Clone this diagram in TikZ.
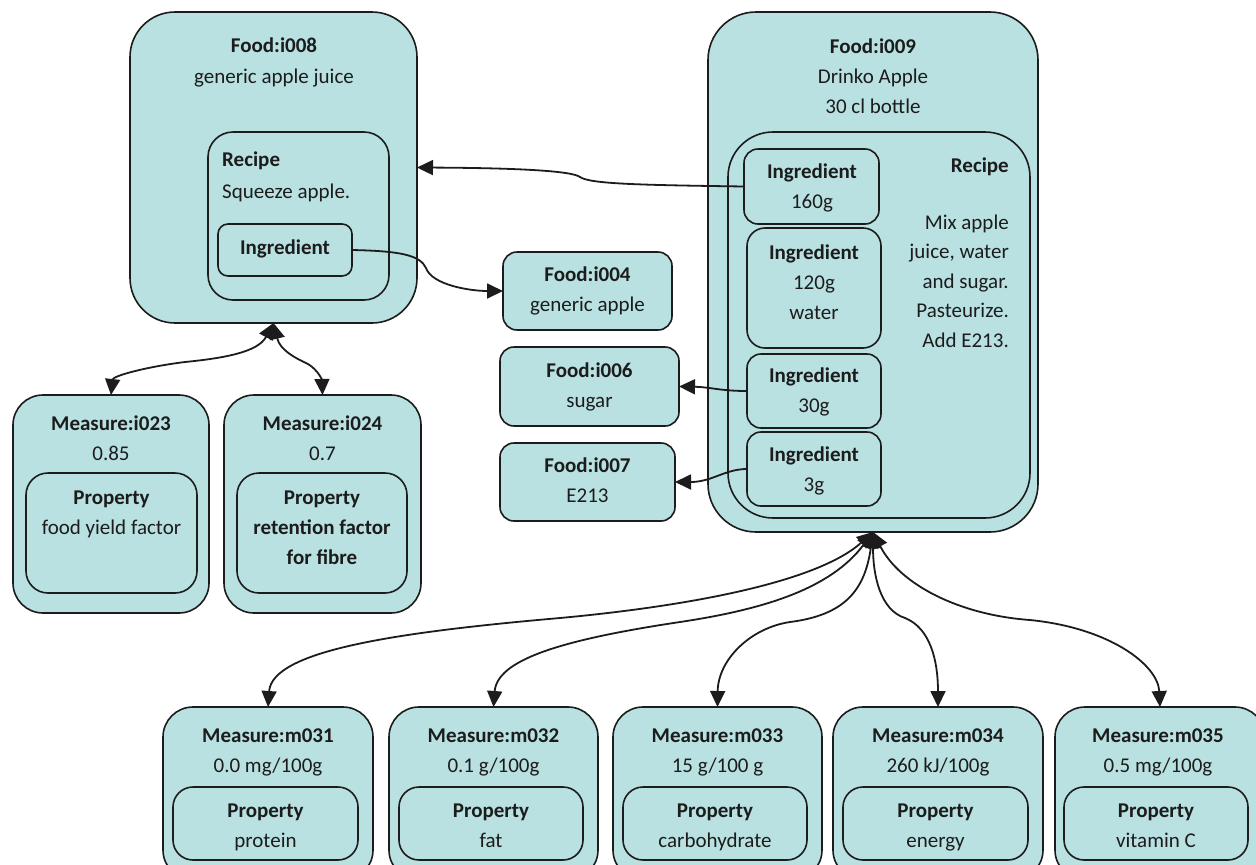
\documentclass[tikz,border=0pt]{standalone}
\usepackage{fontspec}
\setmainfont{Carlito}
\usetikzlibrary{arrows.meta}

\definecolor{cellfill}{RGB}{185,225,225}
\definecolor{ink}{RGB}{28,28,28}

\tikzset{
  cell/.style={draw=ink, fill=cellfill, line width=1.6pt, inner sep=0pt, outer sep=0pt},
  lbl/.style={font=\fontsize{21}{25}\selectfont, text=ink, inner sep=0pt, anchor=base},
  hd/.style={lbl, font=\fontsize{21}{25}\selectfont\bfseries},
  tip/.tip={Triangle[length=16pt,width=15pt]},
  link/.style={draw=ink, line width=1.8pt, -tip},
  twoway/.style={draw=ink, line width=1.8pt, tip-tip},
}

% rounded box given by its corners (x1,y1)-(x2,y2) and a corner radius
\newcommand\cellbox[6]{%
  \node[cell, rounded corners=#6pt,
        minimum width={(#4-#2)*1pt}, minimum height={(#5-#3)*1pt}]
        (#1) at ({(#2+#4)/2},{(#3+#5)/2}) {};}
% one line of text placed by its baseline
\newcommand\txtline[5][lbl]{\node[#1] (#2) at (#3,#4) {#5};}

\begin{document}
\begin{tikzpicture}[x=1pt,y=-1pt]
\useasboundingbox (0,0) rectangle (1256,865);

% ---------- Food:i008 ----------
\cellbox{i008}{130}{12}{417}{323}{45}
\txtline[hd]{i008a}{274}{52}{Food:i008}
\txtline{i008b}{274}{83}{generic apple juice}
\cellbox{recA}{208}{132}{389}{300}{25}
\txtline[hd,anchor=base west]{recAa}{222}{166}{Recipe}
\txtline[lbl,anchor=base west]{recAb}{222}{198}{Squeeze apple.}
\cellbox{ingA}{218}{224}{352}{276}{10}
\txtline[hd]{ingAa}{285}{254}{Ingredient}

% ---------- Food:i009 ----------
\cellbox{i009}{708}{12}{1038}{532}{48}
\txtline[hd]{i009a}{873}{53.5}{Food:i009}
\txtline{i009b}{873}{83}{Drinko Apple}
\txtline{i009c}{873}{113}{30 cl bottle}
\cellbox{recB}{728}{132}{1030}{518}{45}
\txtline[hd,anchor=base east]{recBa}{1009}{172}{Recipe}
\txtline[lbl,anchor=base east]{recBb}{1009}{229}{Mix apple}
\txtline[lbl,anchor=base east]{recBc}{1009}{258.5}{juice, water}
\txtline[lbl,anchor=base east]{recBd}{1009}{288}{and sugar.}
\txtline[lbl,anchor=base east]{recBe}{1009}{317.5}{Pasteurize.}
\txtline[lbl,anchor=base east]{recBf}{1009}{347}{Add E213.}

\cellbox{ing160}{744}{149}{879}{224}{14}
\txtline[hd]{ing160a}{812}{178}{Ingredient}
\txtline{ing160b}{812}{208}{160g}
\cellbox{ing120}{747}{228}{881}{348}{18}
\txtline[hd]{ing120a}{814}{259}{Ingredient}
\txtline{ing120b}{814}{289}{120g}
\txtline{ing120c}{814}{319}{water}
\cellbox{ing30}{747}{354}{881}{428}{14}
\txtline[hd]{ing30a}{814}{382}{Ingredient}
\txtline{ing30b}{814}{412}{30g}
\cellbox{ing3}{747}{432}{881}{506}{14}
\txtline[hd]{ing3a}{814}{461}{Ingredient}
\txtline{ing3b}{814}{491}{3g}

% ---------- plain foods ----------
\cellbox{i004}{503}{252}{672}{330}{14}
\txtline[hd]{i004a}{587.5}{281}{Food:i004}
\txtline{i004b}{587.5}{311}{generic apple}
\cellbox{i006}{500}{347}{679}{426}{14}
\txtline[hd]{i006a}{589.5}{377}{Food:i006}
\txtline{i006b}{589.5}{407}{sugar}
\cellbox{i007}{500}{443}{675}{521}{14}
\txtline[hd]{i007a}{587.5}{472}{Food:i007}
\txtline{i007b}{587.5}{502}{E213}

% ---------- measures of i008 ----------
\cellbox{i023}{13}{395}{209}{613}{30}
\txtline[hd]{i023a}{111}{430}{Measure:i023}
\txtline{i023b}{111}{460}{0.85}
\cellbox{p023}{26}{473}{197}{593}{22}
\txtline[hd]{p023a}{111.5}{504}{Property}
\txtline{p023b}{111.5}{534}{food yield factor}

\cellbox{i024}{224}{395}{421}{613}{30}
\txtline[hd]{i024a}{322.5}{430}{Measure:i024}
\txtline{i024b}{322.5}{460}{0.7}
\cellbox{p024}{237}{473}{407}{593}{22}
\txtline[hd]{p024a}{322}{504}{Property}
\txtline[hd]{p024b}{322}{534}{retention factor}
\txtline[hd]{p024c}{322}{564}{for fibre}

% ---------- measures of i009 ----------
\cellbox{m031}{163}{707}{373}{880}{30}
\txtline[hd]{m031a}{268}{742}{Measure:m031}
\txtline{m031b}{268}{772}{0.0 mg/100g}
\cellbox{p031}{173}{787}{358}{860}{20}
\txtline[hd]{p031a}{265.5}{817}{Property}
\txtline{p031b}{265.5}{847}{protein}

\cellbox{m032}{389}{707}{598}{880}{30}
\txtline[hd]{m032a}{493.5}{742}{Measure:m032}
\txtline{m032b}{493.5}{772}{0.1 g/100g}
\cellbox{p032}{399}{787}{583}{860}{20}
\txtline[hd]{p032a}{491}{817}{Property}
\txtline{p032b}{491}{847}{fat}

\cellbox{m033}{613}{707}{822}{880}{30}
\txtline[hd]{m033a}{717.5}{742}{Measure:m033}
\txtline{m033b}{717.5}{772}{15 g/100 g}
\cellbox{p033}{623}{787}{807}{860}{20}
\txtline[hd]{p033a}{715}{817}{Property}
\txtline{p033b}{715}{847}{carbohydrate}

\cellbox{m034}{833}{707}{1043}{880}{30}
\txtline[hd]{m034a}{938}{742}{Measure:m034}
\txtline{m034b}{938}{772}{260 kJ/100g}
\cellbox{p034}{843}{787}{1028}{860}{20}
\txtline[hd]{p034a}{935.5}{817}{Property}
\txtline{p034b}{935.5}{847}{energy}

\cellbox{m035}{1055}{707}{1265}{880}{30}
\txtline[hd]{m035a}{1158}{742}{Measure:m035}
\txtline{m035b}{1158}{772}{0.5 mg/100g}
\cellbox{p035}{1064}{787}{1248}{860}{20}
\txtline[hd]{p035a}{1156}{817}{Property}
\txtline{p035b}{1156}{847}{vitamin C}

% ---------- ingredient links ----------
\draw[link] (ing160.west) .. controls (640,185) and (590,184) .. (580,177)
            .. controls (572,171) and (520,168) .. (i008.east);
\draw[link] (ingA.east) .. controls (400,251) and (420,255) .. (426,268)
            .. controls (432,285) and (470,291) .. (i004.west);
\draw[link] (ing30.west) .. controls (720,391) and (710,387) .. (i006.east);
\draw[link] (ing3.west) .. controls (725,469) and (712,482) .. (i007.east);

% ---------- measure links ----------
\draw[twoway] (i008.south) .. controls (258,352) and (225,358) .. (185,362)
              .. controls (145,367) and (113,376) .. (i023.north);
\draw[twoway] (i008.south) .. controls (280,350) and (295,358) .. (308,364)
              .. controls (318,370) and (322,380) .. (i024.north);

\draw[twoway] (i009.south) .. controls (820,580) and (700,605) .. (560,618)
              .. controls (400,632) and (272,650) .. (m031.north);
\draw[twoway] (i009.south) .. controls (830,590) and (760,610) .. (680,622)
              .. controls (560,640) and (497,660) .. (m032.north);
\draw[twoway] (i009.south) .. controls (865,590) and (845,615) .. (790,622)
              .. controls (750,628) and (718,660) .. (m033.north);
\draw[twoway] (i009.south) .. controls (873,575) and (880,610) .. (905,618)
              .. controls (930,628) and (938,660) .. (m034.north);
\draw[twoway] (i009.south) .. controls (900,585) and (960,615) .. (1030,620)
              .. controls (1110,628) and (1158,665) .. (m035.north);
\end{tikzpicture}
\end{document}
